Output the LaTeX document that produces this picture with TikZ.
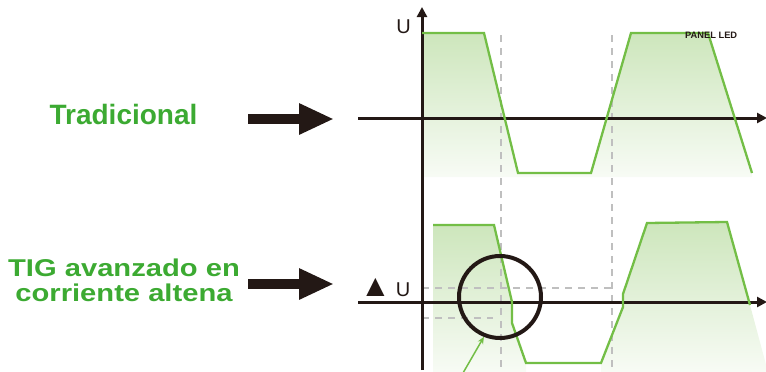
\documentclass[tikz,border=0pt]{standalone}
\usepackage{fontspec}
\setmainfont{Liberation Sans}
\newfontfamily\widesans[FakeStretch=1.2]{Liberation Sans}
\usepackage{xcolor}
\usepackage{tikz}
\usetikzlibrary{arrows.meta,positioning,calc}
\definecolor{ink}{RGB}{35,24,21}
\definecolor{txtgreen}{RGB}{60,170,50}
\definecolor{wavegreen}{RGB}{115,190,70}
\definecolor{fillgreen}{RGB}{205,230,188}

\begin{document}
\begin{tikzpicture}[x=1pt,y=-1pt,
  wave/.style={draw=wavegreen,line width=2.3pt},
  area/.style={top color=fillgreen,bottom color=fillgreen!15,draw=none},
  guide/.style={draw=black!25,line width=1.2pt,dash pattern=on 7pt off 6pt},
  axis/.style={draw=ink,line width=3pt,-{Triangle[length=10pt,width=10pt]}},
  block/.style={draw=ink,line width=10.7pt,-{Triangle[length=35pt,width=29pt]}},
  lab/.style={text=txtgreen,font=\fontsize{28}{30}\selectfont\bfseries},
  ulab/.style={text=ink,font=\fontsize{20}{22}\selectfont,inner sep=0pt}]
\useasboundingbox (0,0) rectangle (766,372);
\path[area] (422,33)--(484,33)--(518,173)--(591,173)--(631,33)--(708,33)--(752,173)--(752,177)--(422,177)--cycle;
\path[area] (433,225)--(494,225)--(512,302)--(512,323)--(526,363)--(526,372)--(433,372)--cycle;
\path[area] (601,363)--(623,307)--(623,294)--(647,223)--(727,222)--(750,305)--(768,372)--(601,372)--cycle;
\foreach \x in {501,612}{\draw[guide] (\x,35)--(\x,372);}
\draw[guide] (422,288)--(612,288);
\draw[guide] (422,318)--(493,318);
\coordinate (y0) at (422,370);
\coordinate (y1) at (422,7);
\coordinate (a0) at (358,118);
\coordinate (a1) at (767,118);
\coordinate (b0) at (358,302);
\coordinate (b1) at (767,302);
\draw[axis] (y0)--(y1);
\draw[axis] (a0)--(a1);
\draw[axis] (b0)--(b1);
\draw[wave] (422,33)--(484,33)--(518,173)--(591,173)--(631,33)--(708,33)--(752,173);
\draw[wave] (433,225)--(494,225)--(512,302)--(512,323)--(526,363)--(601,363)--(623,307)--(623,294)--(647,223)--(727,222)--(750,305);
\node[ulab,anchor=base] (u1) at (403.5,33) {U};
\node[ulab,anchor=base east] (u2) at (410.5,296) {{\fontsize{31}{31}\selectfont▲}\hspace{5pt}U};
\node[anchor=base west,inner sep=0pt,text=ink,font=\fontsize{9.3}{10}\selectfont\bfseries] (led) at (685,38) {PANEL LED};
\node[lab,anchor=base] (trad) at (123.5,124.3) {Tradicional};
\node[lab,align=center,font=\widesans\fontsize{24.3}{25}\selectfont\bfseries] (tig) at (124,280.5)
  {TIG avanzado en\\corriente altena};
\coordinate (t1) at (248,119);
\coordinate (h1) at (334,119);
\coordinate (t2) at (248,284);
\coordinate (h2) at (334,284);
\draw[block] (t1)--(h1);
\draw[block] (t2)--(h2);
\node[draw=ink,line width=4pt,circle,minimum size=82pt,inner sep=0pt] (ring) at (500,297) {};
\coordinate (ptr) at (463,373);
\draw[wavegreen,line width=1.5pt,-{Stealth[length=7pt,width=6pt]}] (ptr)--(ring.248);
\end{tikzpicture}
\end{document}
